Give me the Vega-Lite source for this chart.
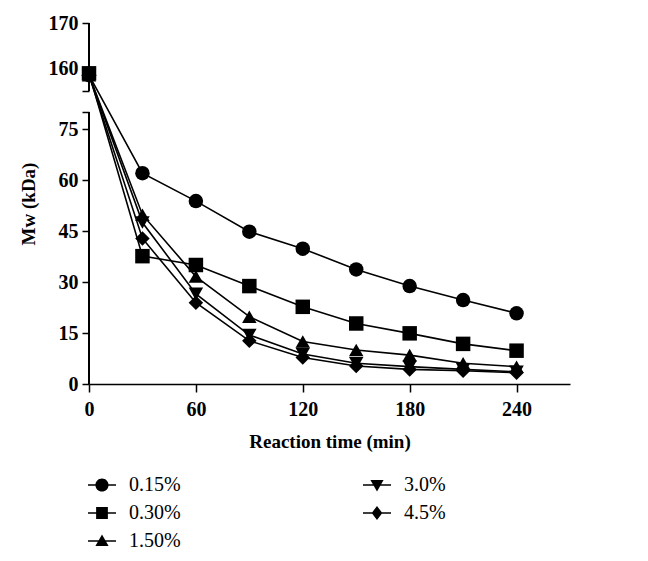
{
  "$schema": "https://vega.github.io/schema/vega-lite/v6.json",
  "autosize": {"type": "none"},
  "padding": {"left": 89, "top": 23, "right": 78, "bottom": 177},
  "width": 481,
  "height": 361,
  "background": "white",
  "config": {
    "view": {"stroke": null},
    "font": "Liberation Serif",
    "axis": {
      "labelFont": "Liberation Serif",
      "labelFontWeight": "bold",
      "labelFontSize": 20,
      "labelColor": "black",
      "titleFont": "Liberation Serif",
      "titleFontWeight": "bold",
      "titleFontSize": 19,
      "titleColor": "black",
      "tickColor": "black",
      "domainColor": "black",
      "tickWidth": 1.5,
      "domainWidth": 1.5,
      "tickSize": 7,
      "grid": false
    }
  },
  "data": {
    "values": [
      {"time": 0, "mw": 158.5, "conc": "0.15%"},
      {"time": 30, "mw": 62.0, "conc": "0.15%"},
      {"time": 60, "mw": 53.8, "conc": "0.15%"},
      {"time": 90, "mw": 44.8, "conc": "0.15%"},
      {"time": 120, "mw": 39.8, "conc": "0.15%"},
      {"time": 150, "mw": 33.7, "conc": "0.15%"},
      {"time": 180, "mw": 28.8, "conc": "0.15%"},
      {"time": 210, "mw": 24.7, "conc": "0.15%"},
      {"time": 240, "mw": 20.8, "conc": "0.15%"},
      {"time": 0, "mw": 158.5, "conc": "1.50%"},
      {"time": 30, "mw": 49.8, "conc": "1.50%"},
      {"time": 60, "mw": 31.6, "conc": "1.50%"},
      {"time": 90, "mw": 19.8, "conc": "1.50%"},
      {"time": 120, "mw": 12.5, "conc": "1.50%"},
      {"time": 150, "mw": 10.0, "conc": "1.50%"},
      {"time": 180, "mw": 8.5, "conc": "1.50%"},
      {"time": 210, "mw": 6.1, "conc": "1.50%"},
      {"time": 240, "mw": 5.1, "conc": "1.50%"},
      {"time": 0, "mw": 158.5, "conc": "3.0%"},
      {"time": 30, "mw": 47.5, "conc": "3.0%"},
      {"time": 60, "mw": 26.5, "conc": "3.0%"},
      {"time": 90, "mw": 14.4, "conc": "3.0%"},
      {"time": 120, "mw": 8.8, "conc": "3.0%"},
      {"time": 150, "mw": 6.1, "conc": "3.0%"},
      {"time": 180, "mw": 5.1, "conc": "3.0%"},
      {"time": 210, "mw": 4.3, "conc": "3.0%"},
      {"time": 240, "mw": 3.6, "conc": "3.0%"},
      {"time": 0, "mw": 158.5, "conc": "4.5%"},
      {"time": 30, "mw": 42.8, "conc": "4.5%"},
      {"time": 60, "mw": 23.9, "conc": "4.5%"},
      {"time": 90, "mw": 12.7, "conc": "4.5%"},
      {"time": 120, "mw": 7.8, "conc": "4.5%"},
      {"time": 150, "mw": 5.3, "conc": "4.5%"},
      {"time": 180, "mw": 4.3, "conc": "4.5%"},
      {"time": 210, "mw": 3.9, "conc": "4.5%"},
      {"time": 240, "mw": 3.3, "conc": "4.5%"},
      {"time": 0, "mw": 158.9, "conc": "0.30%"},
      {"time": 30, "mw": 37.6, "conc": "0.30%"},
      {"time": 60, "mw": 35.0, "conc": "0.30%"},
      {"time": 90, "mw": 28.8, "conc": "0.30%"},
      {"time": 120, "mw": 22.7, "conc": "0.30%"},
      {"time": 150, "mw": 17.8, "conc": "0.30%"},
      {"time": 180, "mw": 14.9, "conc": "0.30%"},
      {"time": 210, "mw": 11.8, "conc": "0.30%"},
      {"time": 240, "mw": 9.8, "conc": "0.30%"}
    ]
  },
  "encoding": {
    "x": {
      "field": "time",
      "type": "quantitative",
      "scale": {"domain": [0, 270], "nice": false, "zero": false},
      "axis": {"values": [0, 60, 120, 180, 240], "title": "Reaction time (min)", "tickSize": 8, "labelPadding": 7, "titlePadding": 13, "labelFlush": false}
    },
    "y": {
      "field": "mw",
      "type": "quantitative",
      "scale": {"domain": [0, 80, 155, 170], "range": [361, 89, 68, 0], "nice": false, "zero": false},
      "axis": {
        "values": [0, 15, 30, 45, 60, 75, 80, 155, 160, 170],
        "labelExpr": "datum.value == 80 || datum.value == 155 ? '' : datum.label",
        "domain": false,
        "title": "Mw (kDa)",
        "labelPadding": 4,
        "titlePadding": 10,
        "labelFlush": false
      }
    }
  },
  "layer": [
    {
      "mark": {"type": "rule", "color": "black", "strokeWidth": 1.5},
      "encoding": {
        "x": {"datum": 0, "type": "quantitative"},
        "y": {"datum": 0, "type": "quantitative"},
        "y2": {"datum": 80}
      }
    },
    {
      "mark": {"type": "rule", "color": "black", "strokeWidth": 1.5},
      "encoding": {
        "x": {"datum": 0, "type": "quantitative"},
        "y": {"datum": 155, "type": "quantitative"},
        "y2": {"datum": 170}
      }
    },
    {
      "mark": {"type": "line", "color": "black", "strokeWidth": 1.6},
      "encoding": {
        "detail": {"field": "conc", "type": "nominal"},
        "order": {"field": "time", "type": "quantitative"}
      }
    },
    {
      "mark": {"type": "point", "filled": true, "color": "black", "opacity": 1, "size": 210},
      "encoding": {
        "shape": {
          "field": "conc",
          "type": "nominal",
          "scale": {
            "domain": ["0.15%", "0.30%", "1.50%", "3.0%", "4.5%"],
            "range": ["circle", "square", "triangle-up", "triangle-down", "diamond"]
          },
          "legend": null
        }
      }
    },
    {
      "mark": {"type": "point", "filled": true, "color": "black", "opacity": 0, "size": 784},
      "encoding": {
        "shape": {
          "field": "conc",
          "type": "nominal",
          "scale": {
            "domain": ["0.15%", "0.30%", "1.50%", "3.0%", "4.5%"],
            "range": [
              "M-1,-0.055H1V0.055H-1ZM-0.47,0A0.47,0.47 0 1,1 0.47,0A0.47,0.47 0 1,1 -0.47,0Z",
              "M-1,-0.055H1V0.055H-1ZM-0.42,-0.42H0.42V0.42H-0.42Z",
              "M-1,-0.055H1V0.055H-1ZM0,-0.47L0.47,0.36L-0.47,0.36Z",
              "M-1,-0.055H1V0.055H-1ZM0,0.47L-0.47,-0.36L0.47,-0.36Z",
              "M-1,-0.055H1V0.055H-1ZM0,-0.5L0.38,0L0,0.5L-0.38,0Z"
            ]
          },
          "legend": {
            "title": null,
            "orient": "none",
            "legendX": -2,
            "legendY": 447,
            "columns": 2,
            "columnPadding": 179,
            "rowPadding": 3,
            "symbolSize": 784,
            "symbolFillColor": "black",
            "symbolOpacity": 1,
            "labelFont": "Liberation Serif",
            "labelFontSize": 20,
            "labelFontWeight": "normal",
            "labelColor": "black",
            "labelOffset": 12
          }
        }
      }
    }
  ],
  "resolve": {"scale": {"shape": "independent"}, "legend": {"shape": "independent"}}
}
